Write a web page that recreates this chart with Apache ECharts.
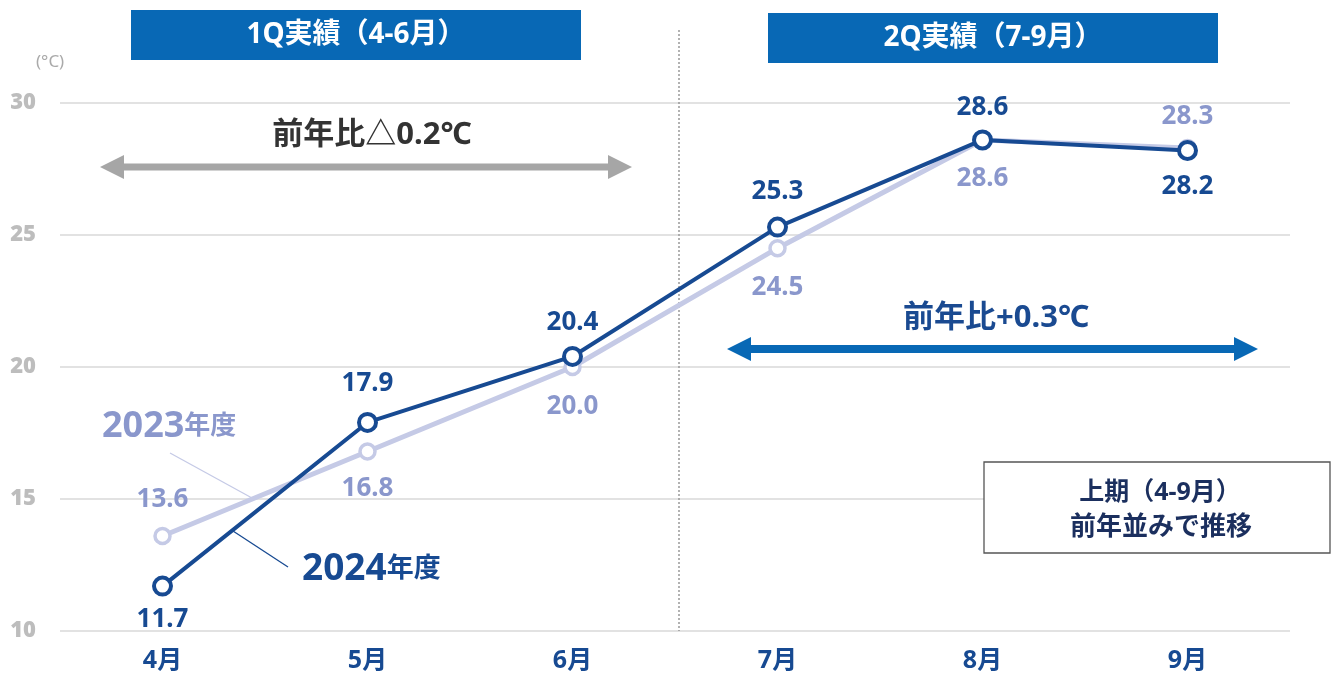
<!DOCTYPE html>
<html><head><meta charset="utf-8">
<script src="https://cdn.jsdelivr.net/npm/echarts@6/dist/echarts.min.js"></script>
<style>html,body{margin:0;padding:0;background:#fff}#c{width:1332px;height:675px}</style>
</head><body><div id="c"></div>
<script>
const months = ['4月','5月','6月','7月','8月','9月'];
const fy2024 = [11.7, 17.9, 20.4, 25.3, 28.6, 28.2];
const fy2023 = [13.6, 16.8, 20.0, 24.5, 28.6, 28.3];
const pos2024 = ['bottom','top','top','top','top','bottom'];
const pos2023 = ['top','bottom','bottom','bottom','bottom','top'];
const dist2024 = [10, 15, 10, 12, 9, 13];
const dist2023 = [14, 15, 17, 17, 16, 9];
const yTicks = {min: 10, max: 30, interval: 5};

const F = '"Noto Sans","Noto Sans CJK JP",sans-serif';
const NAVY = '#174a92', LIGHT = '#c5cae6', LIGHTTXT = '#8a97cc', BLUE = '#0868b5';

const chart = echarts.init(document.getElementById('c'));
function mk(vals, poss, dists, color) {
  return vals.map((v, i) => ({value: v, label: {position: poss[i], distance: dists[i], color: color}}));
}
chart.setOption({
  animation: false,
  grid: {left: 60, right: 42, top: 103, bottom: 44, containLabel: false, outerBoundsMode: 'none'},
  xAxis: {type: 'category', data: months, boundaryGap: true,
    axisLine: {show: false}, axisTick: {show: false},
    axisLabel: {color: NAVY, fontFamily: F, fontWeight: 'bold', fontSize: 25, margin: 17}},
  yAxis: {type: 'value', min: yTicks.min, max: yTicks.max, interval: yTicks.interval,
    name: '(°C)', nameLocation: 'end', nameGap: 32,
    nameTextStyle: {color: '#aaa', fontFamily: F, fontSize: 17, align: 'left', padding: [0, 0, 0, -24]},
    axisLabel: {color: '#bdbdbd', fontFamily: F, fontWeight: 900, fontSize: 22, margin: 24},
    splitLine: {lineStyle: {color: '#d9d9d9', width: 1.5}}},
  series: [
    {type: 'line', data: mk(fy2023, pos2023, dist2023, LIGHTTXT), z: 2,
     symbol: 'circle', symbolSize: 15,
     lineStyle: {color: LIGHT, width: 5}, itemStyle: {color: '#fff', borderColor: LIGHT, borderWidth: 3.5},
     label: {show: true, fontFamily: F, fontWeight: 'bold', fontSize: 26, formatter: p => p.value.toFixed(1)}},
    {type: 'line', data: mk(fy2024, pos2024, dist2024, NAVY), z: 3,
     symbol: 'circle', symbolSize: 17,
     lineStyle: {color: NAVY, width: 4}, itemStyle: {color: '#fff', borderColor: NAVY, borderWidth: 4},
     label: {show: true, fontFamily: F, fontWeight: 'bold', fontSize: 26, formatter: p => p.value.toFixed(1)}}
  ]
});

function px(ci, v) { return chart.convertToPixel({xAxisIndex: 0, yAxisIndex: 0}, [ci, v]); }
const p0 = px(0, 10), p1 = px(1, 10);
const step = p1[0] - p0[0];
const divX = px(2, 10)[0] + step / 2 + 4;
const bottomY = px(0, 10)[1];
const g = [];
g.push({type: 'line', shape: {x1: divX, y1: 30, x2: divX, y2: bottomY}, style: {stroke: '#999', lineWidth: 1.5, lineDash: [2, 2]}});
function header(x, y, w, h, text) {
  g.push({type: 'rect', shape: {x, y, width: w, height: h}, style: {fill: BLUE}});
  g.push({type: 'text', x: x + w / 2, y: y + h / 2, style: {text, fill: '#fff', font: 'bold 28px ' + F, align: 'center', verticalAlign: 'middle'}});
}
header(131, 10, 450, 50, '1Q実績（4-6月）');
header(768, 13, 450, 50, '2Q実績（7-9月）');
function arrow(x1, x2, y, color, th, hw, hl) {
  g.push({type: 'polygon', shape: {points: [
    [x1, y], [x1 + hl, y - hw], [x1 + hl, y - th / 2], [x2 - hl, y - th / 2], [x2 - hl, y - hw], [x2, y],
    [x2 - hl, y + hw], [x2 - hl, y + th / 2], [x1 + hl, y + th / 2], [x1 + hl, y + hw]]}, style: {fill: color}});
}
arrow(100, 632, 167, '#a6a6a6', 7, 12, 24);
arrow(727, 1258, 349, BLUE, 8, 12, 24);
g.push({type: 'text', x: 372, y: 135, style: {text: '前年比△0.2℃', fill: '#333', font: 'bold 31px ' + F, align: 'center', verticalAlign: 'middle'}});
g.push({type: 'text', x: 996, y: 318, style: {text: '前年比+0.3℃', fill: '#1a4a91', font: 'bold 31px ' + F, align: 'center', verticalAlign: 'middle'}});
g.push({type: 'text', x: 102, y: 427, style: {rich: {a: {font: 'bold 36px ' + F, fill: LIGHTTXT}, b: {font: 'bold 26px ' + F, fill: LIGHTTXT}}, text: '{a|2023}{b|年度}', verticalAlign: 'middle'}});
g.push({type: 'line', shape: {x1: 170, y1: 453, x2: 252, y2: 498}, style: {stroke: LIGHT, lineWidth: 1.3}});
g.push({type: 'text', x: 302, y: 569, style: {rich: {a: {font: 'bold 37px ' + F, fill: NAVY}, b: {font: 'bold 27px ' + F, fill: NAVY}}, text: '{a|2024}{b|年度}', verticalAlign: 'middle'}});
g.push({type: 'line', shape: {x1: 233, y1: 531, x2: 288, y2: 567}, style: {stroke: NAVY, lineWidth: 1.3}});
g.push({type: 'rect', shape: {x: 984, y: 462, width: 346, height: 91}, style: {fill: '#fff', stroke: '#555', lineWidth: 1.3}});
g.push({type: 'text', x: 1160, y: 493, style: {text: '上期（4-9月）', fill: '#1b2f5e', font: 'bold 25px ' + F, align: 'center', verticalAlign: 'middle'}});
g.push({type: 'text', x: 1161, y: 528, style: {text: '前年並みで推移', fill: '#1b2f5e', font: 'bold 26px ' + F, align: 'center', verticalAlign: 'middle'}});
chart.setOption({graphic: g});
</script></body></html>
